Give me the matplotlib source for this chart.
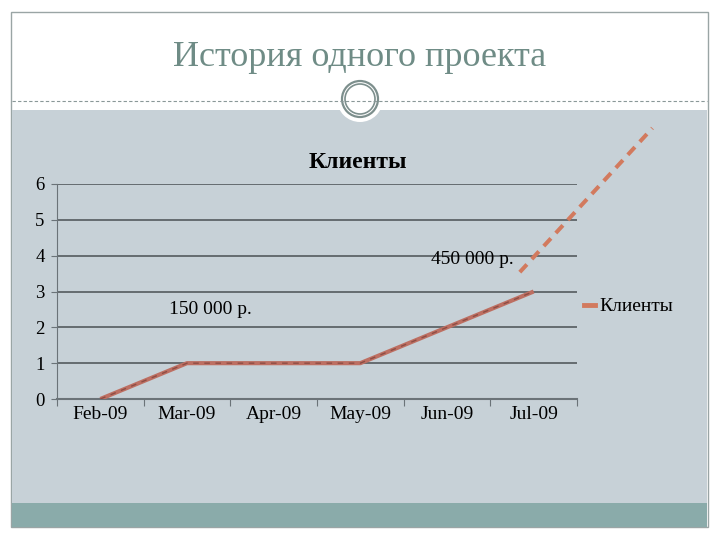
import matplotlib
matplotlib.use("Agg")
import matplotlib.pyplot as plt
from matplotlib.patches import Rectangle, Circle
from matplotlib.lines import Line2D

# ---- data ----
months = ["Feb-09", "Mar-09", "Apr-09", "May-09", "Jun-09", "Jul-09"]
clients = [0, 1, 1, 1, 2, 3]
y_ticks = [0, 1, 2, 3, 4, 5, 6]
forecast_x = [4.84, 6.37]
forecast_y = [3.54, 7.56]
notes = ["150 000 р.", "450 000 р."]
note_x = [1.27, 4.29]
note_y = [2.5, 3.9]
slide_title = "История одного проекта"
chart_title = "Клиенты"

W, H = 720, 540
fig = plt.figure(figsize=(7.2, 5.4), dpi=100)
fig.patch.set_facecolor("white")
serif = ["Liberation Serif", "DejaVu Serif"]

# background slide decoration
bg = fig.add_axes([0, 0, 1, 1])
bg.set_xlim(0, W)
bg.set_ylim(H, 0)
bg.axis("off")
bg.add_patch(Rectangle((11, 12), 697, 515, facecolor="white", edgecolor="#9aa5a5", lw=1))
bg.add_patch(Rectangle((12, 110), 695, 394, facecolor="#c7d1d7", edgecolor="none"))
bg.add_patch(Rectangle((12, 503), 695, 24, facecolor="#8aabaa", edgecolor="none"))
bg.plot([12, 707], [101, 101], color="#8a9898", lw=0.8, ls=(0, (3, 2)))
bg.add_patch(Circle((360, 99), 23, facecolor="white", edgecolor="none"))
bg.add_patch(Circle((360, 99), 18, facecolor="white", edgecolor="#7d8f8d", lw=1.6))
bg.add_patch(Circle((360, 99), 15, facecolor="white", edgecolor="#7d8f8d", lw=1.2))
bg.text(360, 58, slide_title, ha="center", va="center", fontsize=26,
        color="#6f8c86", family=serif)
bg.text(358, 163, chart_title, ha="center", va="center", fontsize=17,
        fontweight="bold", family=serif)

# chart axes
left, right, top, bottom = 57, 577, 184, 399
ax = fig.add_axes([left / W, (H - bottom) / H, (right - left) / W, (bottom - top) / H])
ax.set_facecolor("none")
x = list(range(len(months)))
ax.set_xlim(-0.5, len(months) - 0.5)
ax.set_ylim(0, 6)
ax.set_yticks(y_ticks)
ax.set_xticks([i - 0.5 for i in range(len(months) + 1)])
ax.set_xticklabels([])
ax.set_xticks(x, minor=True)
ax.set_xticklabels(months, minor=True, fontsize=14, family=serif)
ax.tick_params(axis="x", which="minor", length=0, pad=5)
ax.tick_params(axis="x", which="major", length=5, color="#6b7378", direction="out")
ax.tick_params(axis="y", length=4, color="#6b7378", labelsize=13.5, pad=5)
for lab in ax.get_yticklabels():
    lab.set_family(serif)
ax.grid(axis="y", color="#4a5054", lw=1.1)
ax.set_axisbelow(True)
for s in ["top", "right"]:
    ax.spines[s].set_visible(False)
ax.spines["left"].set_color("#6b7378")
ax.spines["bottom"].set_color("#6b7378")
ax.spines["bottom"].set_linewidth(1.5)

ax.plot(x, clients, color="#bd6f62", lw=3.0, solid_capstyle="butt", zorder=3)
ax.plot(x, clients, color="#8e4d44", lw=1.0, ls=(0, (4, 4)), zorder=4)
ax.plot(forecast_x, forecast_y, color="#d27a5e", lw=2.9, ls=(0, (2.6, 1.8)),
        clip_on=False, zorder=5)

for t, nx, ny in zip(notes, note_x, note_y):
    ax.text(nx, ny, t, ha="center", va="center", fontsize=14, family=serif)

handle = Line2D([], [], color="#d27a5e", lw=3.5)
leg = ax.legend([handle], [chart_title], loc="center left", bbox_to_anchor=(0.98, 0.43),
                frameon=False, handlelength=0.55, handletextpad=0.25,
                prop={"family": serif, "size": 14})

fig.savefig("out.png", dpi=100)
